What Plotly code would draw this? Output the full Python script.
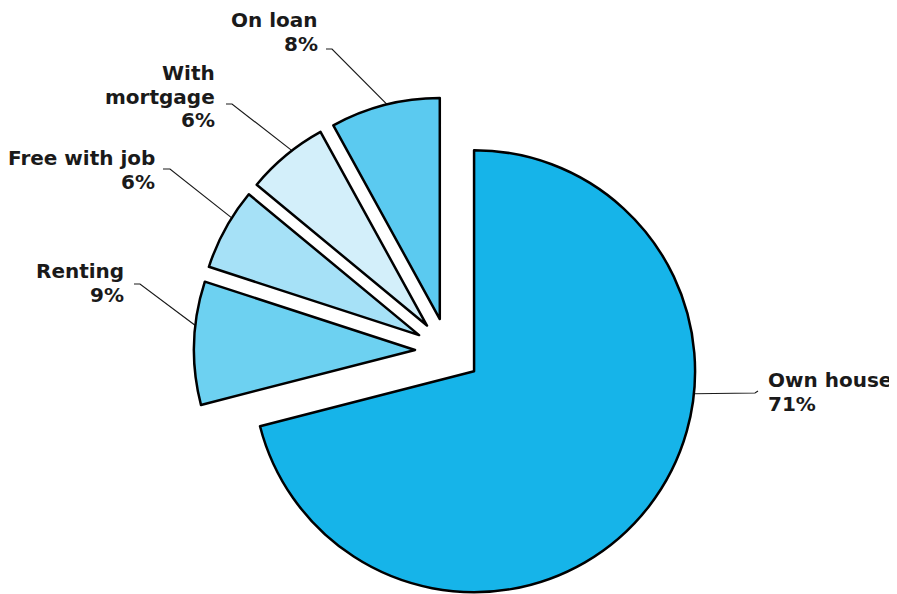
import math
import plotly.graph_objects as go

# ---------------- data ----------------
CATEGORIES = ["Own house", "Renting", "Free with job", "With mortgage", "On loan"]
SHARES = [71, 9, 6, 6, 8]
LABEL_NAMES = ["Own house", "Renting", "Free with job", "With<br>mortgage", "On loan"]

# ---------------- style / layout ----------------
COLORS = ["#16B4E9", "#6DD1F1", "#A6E1F7", "#D3EFFA", "#5BCAF0"]
W, H = 897, 594
PAGE_OFFSET = 8            # browser body margin (px)
CX, CY = 448, 351          # pie centre on screen (px)
R = 221                    # pie radius (px)
PULL_PX = 33               # explode distance (px)
OUTLINE = 2.5

# label layout (screen px): text x, alignment, first baseline, tick end, elbow, anchor fraction along slice
LABEL_LAYOUT = [
    dict(x=768, align="left", base=387, tick=(758, 391), elbow=(755, 393), frac=0.375),
    dict(x=124, align="right", base=278, tick=(134, 284), elbow=(140, 284), frac=0.64),
    dict(x=155, align="right", base=165, tick=(163, 169), elbow=(170, 169), frac=0.65),
    dict(x=215, align="right", base=80, tick=(226, 104), elbow=(232, 104), frac=0.59),
    dict(x=318, align="right", base=27, tick=(326, 49), elbow=(332, 49), frac=0.52),
]
LINE_GAP = 23.5
FONT = dict(family="'DejaVu Sans', Lato, sans-serif", size=20, color="#1a1a1a", weight="bold")
BASELINE_TO_MIDDLE = 0.346  # em, for DejaVu Sans


def px_to_paper(x, y):
    return (x - PAGE_OFFSET) / W, 1 - (y - PAGE_OFFSET) / H


total = float(sum(SHARES))
fig = go.Figure()

starts, ends, centres = [], [], []
cum = 0.0
for v in SHARES:
    a0 = cum / total * 360.0
    cum += v
    a1 = cum / total * 360.0
    starts.append(a0)
    ends.append(a1)
    mid = math.radians((a0 + a1) / 2)
    centres.append((CX + PULL_PX * math.sin(mid), CY - PULL_PX * math.cos(mid)))

for i, cat in enumerate(CATEGORIES):
    cx, cy = centres[i]
    (x0, y1), (x1, y0) = px_to_paper(cx - R, cy - R), px_to_paper(cx + R, cy + R)
    fig.add_trace(go.Pie(
        labels=CATEGORIES,
        values=SHARES,
        sort=False,
        direction="clockwise",
        rotation=0,
        textinfo="none",
        hoverinfo="label+percent",
        showlegend=False,
        marker=dict(
            colors=[COLORS[j] if j == i else "rgba(0,0,0,0)" for j in range(len(CATEGORIES))],
            line=dict(color="black", width=[OUTLINE if j == i else 0 for j in range(len(CATEGORIES))]),
        ),
        domain=dict(x=[x0, x1], y=[y0, y1]),
    ))

annotations = []
shapes = []
for i, (name, v) in enumerate(zip(LABEL_NAMES, SHARES)):
    lay = LABEL_LAYOUT[i]
    lines = name.split("<br>") + [f"{v}%"]
    for k, line in enumerate(lines):
        base = lay["base"] + k * LINE_GAP
        mid_y = base - BASELINE_TO_MIDDLE * FONT["size"]
        xp, yp = px_to_paper(lay["x"], mid_y)
        annotations.append(dict(
            x=xp, y=yp, xref="paper", yref="paper", text=line, showarrow=False,
            xanchor="left" if lay["align"] == "left" else "right", yanchor="middle",
            align=lay["align"], font=FONT, borderpad=0, borderwidth=0,
        ))
    # leader line: from arc point to elbow to tick
    cx, cy = centres[i]
    ang = math.radians(starts[i] + lay["frac"] * (ends[i] - starts[i]))
    ax_, ay_ = cx + R * math.sin(ang), cy - R * math.cos(ang)
    pts = [px_to_paper(ax_, ay_), px_to_paper(*lay["elbow"]), px_to_paper(*lay["tick"])]
    path = "M {} {} L {} {} L {} {}".format(*[c for p in pts for c in p])
    shapes.append(dict(type="path", path=path, xref="paper", yref="paper",
                       line=dict(color="#1a1a1a", width=1.2), layer="below"))

fig.update_layout(
    width=W, height=H, autosize=False,
    margin=dict(l=0, r=0, t=0, b=0),
    paper_bgcolor="white", plot_bgcolor="white",
    annotations=annotations, shapes=shapes,
)

fig.write_html("out.html")
